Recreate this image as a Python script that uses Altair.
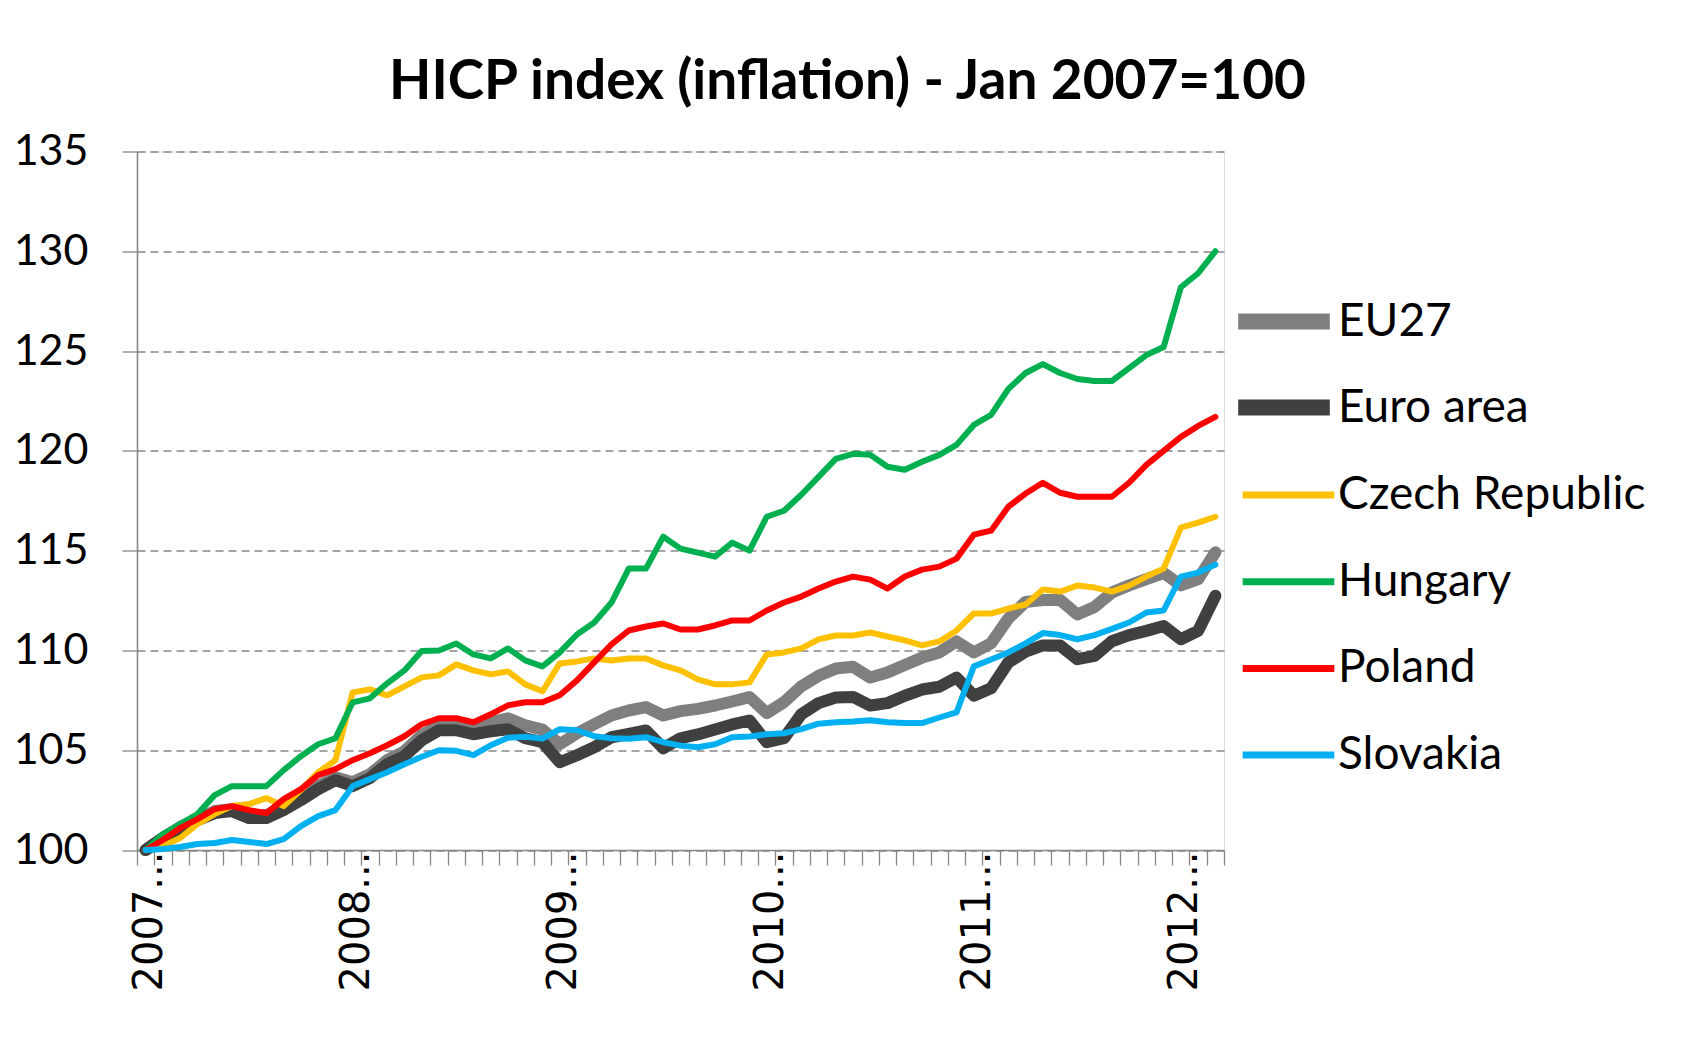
import altair as alt
import pandas as pd

# ---------------- data ----------------
years = [2007, 2008, 2009, 2010, 2011, 2012]
months = [f"{y}M{m:02d}" for y in years for m in range(1, 13)][:63]

series_names = ["EU27", "Euro area", "Czech Republic", "Hungary", "Poland", "Slovakia"]
series_colors = ["#7F7F7F", "#404040", "#FFC000", "#00B050", "#FF0000", "#00B0F0"]

eu27 = [100.0, 100.6, 101.15, 101.55, 101.95, 102.05, 101.75, 101.75, 102.15, 102.65, 103.2, 103.65, 103.4, 103.8,
        104.5, 104.95, 105.75, 106.25, 106.35, 106.2, 106.4, 106.6, 106.25, 106.03, 105.3,
        105.85, 106.3, 106.74, 106.99, 107.16, 106.74, 106.96, 107.07, 107.24, 107.44, 107.66, 106.86, 107.41,
        108.2, 108.73, 109.09, 109.18, 108.64, 108.9, 109.27, 109.64, 109.9, 110.45, 109.9, 110.36,
        111.6, 112.43, 112.53, 112.53, 111.8, 112.18, 112.9, 113.26, 113.57, 113.88, 113.26, 113.57, 114.92]

euro_area = [100.0, 100.6, 101.1, 101.5, 101.85, 101.95, 101.6, 101.6, 102.0, 102.5, 103.05, 103.5, 103.2, 103.6,
             104.3, 104.7, 105.5, 106.0, 106.0, 105.8, 105.95, 106.05, 105.6, 105.4, 104.4,
             104.75, 105.15, 105.65, 105.82, 105.99, 105.1, 105.6, 105.79, 106.04, 106.29, 106.49, 105.4, 105.6,
             106.8, 107.36, 107.64, 107.67, 107.24, 107.36, 107.73, 108.04, 108.18, 108.64, 107.73, 108.1,
             109.4, 109.94, 110.25, 110.25, 109.56, 109.73, 110.46, 110.77, 110.98, 111.22, 110.56, 110.98, 112.74]

czech = [100.0, 100.2, 100.6, 101.3, 101.8, 102.2, 102.3, 102.6, 102.2, 103.0, 103.9, 104.5, 107.9, 108.05,
         107.75, 108.2, 108.65, 108.75, 109.3, 109.0, 108.8, 108.95, 108.3, 107.95, 109.35,
         109.45, 109.6, 109.5, 109.6, 109.6, 109.25, 109.0, 108.55, 108.3, 108.3, 108.4, 109.8, 109.9,
         110.1, 110.55, 110.75, 110.75, 110.9, 110.7, 110.5, 110.25, 110.45, 111.0, 111.85, 111.85,
         112.1, 112.3, 113.05, 112.95, 113.25, 113.15, 112.95, 113.25, 113.7, 114.1, 116.15, 116.4, 116.7]

hungary = [100.0, 100.8, 101.3, 101.8, 102.75, 103.2, 103.2, 103.2, 104.0, 104.7, 105.3, 105.6, 107.4, 107.6,
           108.35, 109.0, 109.97, 110.0, 110.35, 109.8, 109.6, 110.1, 109.5, 109.2, 109.9, 110.8, 111.4,
           112.4, 114.1, 114.1, 115.7, 115.1, 114.9, 114.7, 115.4, 115.0, 116.7, 117.0,
           117.8, 118.7, 119.6, 119.85, 119.8, 119.2, 119.05, 119.45, 119.8, 120.3, 121.3, 121.8,
           123.1, 123.9, 124.35, 123.9, 123.6, 123.5, 123.5, 124.15, 124.8, 125.2, 128.2, 128.9, 130.0]

poland = [100.0, 100.5, 101.1, 101.55, 102.05, 102.2, 102.0, 101.85, 102.55, 103.05, 103.75, 104.05, 104.5, 104.85,
          105.25, 105.7, 106.3, 106.6, 106.6, 106.4, 106.8, 107.25, 107.4, 107.4, 107.75,
          108.5, 109.4, 110.3, 111.0, 111.2, 111.35, 111.05, 111.05, 111.25, 111.5, 111.5, 112.0, 112.4,
          112.7, 113.1, 113.45, 113.7, 113.55, 113.1, 113.7, 114.05, 114.2, 114.6, 115.8, 116.0,
          117.2, 117.86, 118.4, 117.9, 117.7, 117.7, 117.7, 118.4, 119.3, 120.0, 120.7, 121.25, 121.7]

slovakia = [100.0, 100.05, 100.15, 100.3, 100.35, 100.5, 100.4, 100.3, 100.55, 101.2, 101.7, 102.0, 103.2, 103.55,
            103.9, 104.3, 104.67, 105.0, 104.97, 104.75, 105.25, 105.63, 105.67, 105.58, 106.05,
            106.0, 105.7, 105.6, 105.57, 105.65, 105.4, 105.23, 105.15, 105.3, 105.65, 105.69, 105.8, 105.85,
            106.06, 106.33, 106.4, 106.44, 106.5, 106.4, 106.36, 106.36, 106.64, 106.9, 109.2, 109.55,
            109.9, 110.35, 110.87, 110.77, 110.56, 110.77, 111.08, 111.4, 111.9, 112.0, 113.7, 113.9, 114.3]

all_values = [eu27, euro_area, czech, hungary, poland, slovakia]

rows = []
for name, vals in zip(series_names, all_values):
    for i, v in enumerate(vals):
        rows.append({"series": name, "idx": i, "month": months[i], "value": v})
df = pd.DataFrame(rows)

# ---------------- styling ----------------
GRAY = "#868686"
thick_names, thick_colors = series_names[:2], series_colors[:2]
thin_names, thin_colors = series_names[2:], series_colors[2:]

x_axis = alt.Axis(
    values=[k - 0.5 for k in range(len(months) + 1)],
    labelExpr="(datum.value + 0.5) % 12 == 0 && datum.value < 62 ? toString(2007 + (datum.value + 0.5) / 12) + '...' : ''",
    labelAngle=270, labelAlign="right", labelBaseline="middle",
    labelFont="DejaVu Sans", labelFontSize=40, labelColor="black",
    labelPadding=-14, labelOffset=12.6, labelOverlap=False, labelBound=False, labelFlush=False,
    tickSize=15, tickColor=GRAY, tickWidth=1.3,
    domainColor=GRAY, domainWidth=1.6, grid=False, title=None,
)
y_axis = alt.Axis(
    values=[100, 105, 110, 115, 120, 125, 130, 135],
    labelFont="Lato", labelFontSize=43, labelColor="black", labelPadding=34,
    tickSize=15, tickColor=GRAY, tickWidth=1.3,
    domainColor=GRAY, domainWidth=1.6,
    grid=True, gridColor=GRAY, gridDash=[8, 5], gridWidth=1.3, title=None,
)
x_enc = alt.X("idx:Q", scale=alt.Scale(domain=[-0.5, 62.5], nice=False, zero=False), axis=x_axis)
y_enc = alt.Y("value:Q", scale=alt.Scale(domain=[100, 135], nice=False, zero=False), axis=y_axis)

legend_common = dict(
    title=None, orient="none", symbolType="stroke", symbolSize=8400,
    labelFont="Lato", labelFontSize=46, labelColor="black", labelLimit=0,
    padding=0, labelOffset=0,
)
thick_legend = alt.Legend(legendX=1093, legendY=116, symbolStrokeWidth=16, rowPadding=0, **legend_common)
thin_legend = alt.Legend(legendX=1102, legendY=294, symbolStrokeWidth=7, rowPadding=13.7, **legend_common)

base = alt.Chart(df)
layers = []
for name, w in zip(series_names, [12, 12, 6, 6, 6, 6]):
    line = base.transform_filter(alt.datum.series == name).mark_line(
        strokeWidth=w, strokeCap="round", strokeJoin="round"
    )
    if name in thick_names:
        enc = dict(color=alt.Color("series:N", scale=alt.Scale(domain=thick_names, range=thick_colors),
                                   legend=thick_legend))
    else:
        enc = dict(stroke=alt.Stroke("series:N", scale=alt.Scale(domain=thin_names, range=thin_colors),
                                     legend=thin_legend))
    layers.append(line.encode(x=x_enc, y=y_enc, **enc))

chart = alt.layer(*layers).properties(
    width=1087, height=698.5,
    autosize=alt.AutoSizeParams(type="none"),
    padding={"left": 129, "top": 143.5, "right": 440, "bottom": 180},
    title=alt.TitleParams(
        "HICP index (inflation) - Jan 2007=100",
        font="Lato", fontSize=55, fontWeight="bold", color="black",
        anchor="middle", dx=167, offset=20,
    ),
).configure_view(strokeWidth=0).configure(background="white")

chart.save("out.html", embed_options={"renderer": "svg", "actions": False})
